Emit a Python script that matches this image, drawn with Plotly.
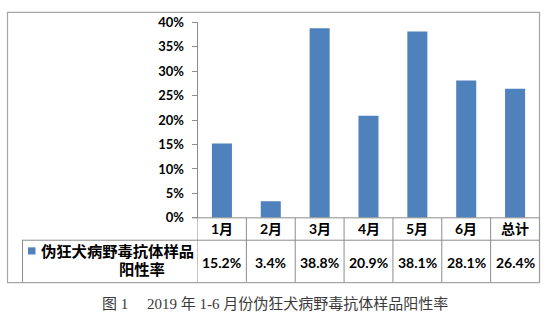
import plotly.graph_objects as go

categories = ["1月", "2月", "3月", "4月", "5月", "6月", "总计"]
values = [0.152, 0.034, 0.388, 0.209, 0.381, 0.281, 0.264]
series_name = "伪狂犬病野毒抗体样品阳性率"
legend_lines = ["伪狂犬病野毒抗体样品", "阳性率"]
caption = "图 1　 2019 年 1-6 月份伪狂犬病野毒抗体样品阳性率"

W, H = 546, 331
def px(x): return x / W
def py(y): return 1 - y / H

BLUE = "#4F81BD"
LINE = "#8C8C8C"
FONT = "Lato, Noto Sans CJK SC, sans-serif"

fig = go.Figure()
fig.add_trace(go.Bar(x=categories, y=values, marker=dict(color=BLUE, line=dict(width=0)),
                     name=series_name, showlegend=False, hoverinfo="x+y"))

x_left, x_right = 197.5, 539.5
y_top, y_zero = 15, 220.5
row1_bot, row2_bot = 244, 288

fig.update_layout(
    width=W, height=H, margin=dict(l=0, r=0, t=0, b=0),
    paper_bgcolor="white", plot_bgcolor="white",
    bargap=0.59,
    xaxis=dict(domain=[px(x_left), px(x_right)], showticklabels=False, showline=False,
               showgrid=False, zeroline=False, range=[-0.5, len(categories) - 0.5], fixedrange=True),
    yaxis=dict(domain=[py(y_zero), py(y_top)], range=[0, 0.4], dtick=0.05, tickformat=".0%",
               showgrid=False, zeroline=False, showline=True, linecolor=LINE, linewidth=1,
               ticks="outside", ticklen=5, tickcolor=LINE, ticklabelstandoff=5,
               tickfont=dict(family=FONT, size=13, color="black", weight="bold")),
    font=dict(family=FONT),
)

shapes = []
def hline(y, x0, x1):
    shapes.append(dict(type="line", xref="paper", yref="paper", x0=px(x0), x1=px(x1),
                       y0=py(y), y1=py(y), line=dict(color=LINE, width=1)))

# outer border
shapes.append(dict(type="rect", xref="paper", yref="paper", x0=px(7.5), x1=px(539.5),
                   y0=py(288.5), y1=py(4.5), line=dict(color="#A6A6A6", width=1.2)))
# table horizontal lines
hline(y_zero, 192, x_right)
hline(row1_bot, 22, x_right)
# table vertical lines (category boundaries via x axis)
n = len(categories)
for i in range(n + 1):
    xb = i - 0.5
    shapes.append(dict(type="line", xref="x", yref="paper", x0=xb, x1=xb,
                       y0=py(row2_bot), y1=py(y_zero), line=dict(color=LINE, width=1)))
# legend cell left border
shapes.append(dict(type="line", xref="paper", yref="paper", x0=px(22.5), x1=px(22.5),
                   y0=py(row2_bot), y1=py(row1_bot), line=dict(color=LINE, width=1)))
# legend square
shapes.append(dict(type="rect", xref="paper", yref="paper", x0=px(28), x1=px(35.5),
                   y0=py(259), y1=py(251.5), fillcolor=BLUE, line=dict(width=0)))

TF = dict(family=FONT, size=14, color="black", weight="bold")
annotations = []
for c, v in zip(categories, values):
    annotations.append(dict(x=c, xref="x", y=py(232), yref="paper",
                            yanchor="middle", text=c, showarrow=False, font=TF))
    annotations.append(dict(x=c, xref="x", y=py(267), yref="paper",
                            yanchor="middle", text=f"{v*100:.1f}%", showarrow=False, font=TF))
annotations.append(dict(x=px(39), xref="paper", y=py(255), yref="paper", xanchor="left",
                        yanchor="middle", text=legend_lines[0], showarrow=False,
                        font=dict(family=FONT, size=15.3, color="black", weight="bold")))
annotations.append(dict(x=px(116.5), xref="paper", y=py(274.5), yref="paper",
                        yanchor="middle", text=legend_lines[1], showarrow=False,
                        font=dict(family=FONT, size=15.3, color="black", weight="bold")))
annotations.append(dict(x=px(275), xref="paper", y=py(311), yref="paper",
                        yanchor="middle", text=caption, showarrow=False,
                        font=dict(family="Liberation Serif, Noto Sans CJK SC, serif", size=15, color="#3a3a3a")))

fig.update_layout(shapes=shapes, annotations=annotations)
fig.write_html("out.html")
